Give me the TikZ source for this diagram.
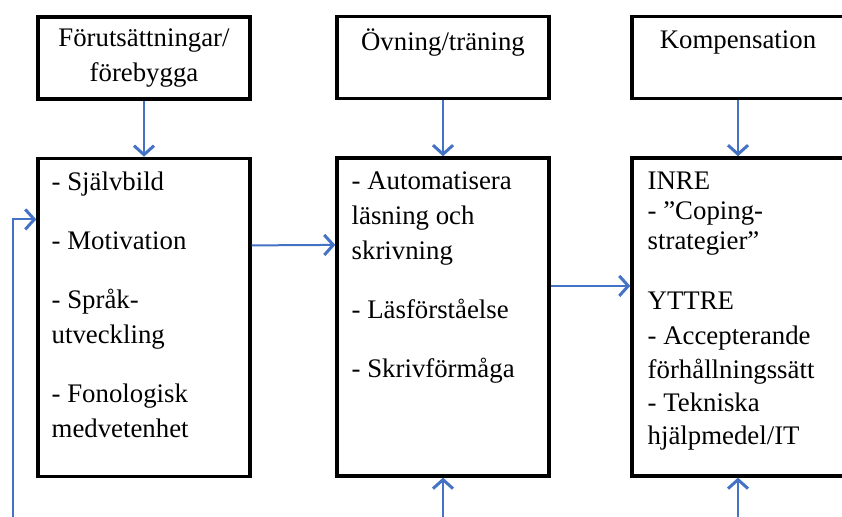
\documentclass[tikz,border=0pt]{standalone}
\usepackage{fontspec}
\setmainfont{Liberation Serif}
\usepackage{tikz}
\usetikzlibrary{arrows.meta, positioning, calc}
\definecolor{flowblue}{RGB}{68,114,196}

\begin{document}
\begin{tikzpicture}[x=0.5pt, y=-0.5pt,
    headbox/.style={rectangle,
      draw,
      line width=1.7pt,
      minimum width=106pt,
      minimum height=41pt,
      align=center,
      font=\fontsize{13.4}{17.5}\selectfont},
    listbox/.style={rectangle,
      draw,
      line width=1.7pt,
      minimum width=106pt,
      minimum height=159pt},
    listtext/.style={anchor=north west,
      inner sep=0pt,
      align=left},
    flow/.style={draw=flowblue,
      line width=1pt,
      -{Straight Barb[length=4.5pt, width=10pt, line width=1.5pt]}}]
  \useasboundingbox (0,0) rectangle (842,516);

  % HEADINGS

  \node[headbox] (prereqtitle) at (144,58) {
    Förutsättningar/\\förebygga
  };

  \node[headbox] (trainingtitle) at (443,57.5) {
    Övning/träning\\\mbox{}
  };

  \node[headbox] (compensationtitle) at (738,57.5) {
    Kompensation\\\mbox{}
  };

  % BOXES

  \node[listbox, below=28pt of prereqtitle] (prereq) {};
  \node[listbox, below=28pt of trainingtitle] (training) {};
  \node[listbox, below=28pt of compensationtitle] (compensation) {};

  \node[listtext,
    font=\fontsize{13.4}{17.5}\selectfont]
    at ([xshift=7.5pt, yshift=-7.5pt]prereq.north west) (prereqtext) {
    - Självbild\\[12pt]
    - Motivation\\[12pt]
    - Språk-\\utveckling\\[12pt]
    - Fonologisk\\medvetenhet
  };

  \node[listtext,
    font=\fontsize{13.4}{17.5}\selectfont]
    at ([xshift=8pt, yshift=-7.5pt]training.north west) (trainingtext) {
    - Automatisera\\läsning och\\skrivning\\[12pt]
    - Läsförståelse\\[12pt]
    - Skrivförmåga
  };

  \node[listtext,
    font=\fontsize{13.4}{15}\selectfont]
    at ([xshift=8.5pt, yshift=-7.5pt]compensation.north west) (compensationtext) {
    INRE\\
    - ”Coping-\\strategier”\\[15pt]
    YTTRE\\[2.5pt]
    - Accepterande\\[2pt]
    förhållningssätt\\[1.5pt]
    - Tekniska\\[1.5pt]
    hjälpmedel/IT
  };

  % ARROWS

  \coordinate (loopstart) at (13,518);
  \coordinate (trainingin) at (443,518);
  \coordinate (compensationin) at (738,518);

  \draw[flow] (prereqtitle) -- (prereq);
  \draw[flow] (trainingtitle) -- (training);
  \draw[flow] (compensationtitle) -- (compensation);

  \draw[flow] ([yshift=36pt]prereq.east) -- ([yshift=36pt]training.west);
  \draw[flow] ([yshift=15.5pt]training.east) -- ([yshift=15.5pt]compensation.west);

  \draw[flow] (loopstart) |- ([yshift=49pt]prereq.west);
  \draw[flow] (trainingin) -- (training);
  \draw[flow] (compensationin) -- (compensation);

\end{tikzpicture}
\end{document}
